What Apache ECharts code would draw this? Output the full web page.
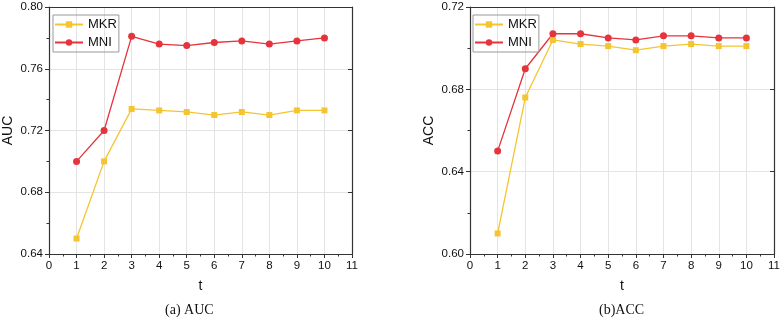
<!DOCTYPE html>
<html><head><meta charset="utf-8">
<script src="https://cdn.jsdelivr.net/npm/echarts@6/dist/echarts.min.js"></script>
<style>html,body{margin:0;padding:0;background:#fff}#c{width:783px;height:321px}</style>
</head><body><div id="c"></div>
<script>
var tValues = [1,2,3,4,5,6,7,8,9,10];
var aucMKR = [0.650,0.700,0.734,0.733,0.732,0.730,0.732,0.730,0.733,0.733];
var aucMNI = [0.700,0.720,0.781,0.776,0.775,0.777,0.778,0.776,0.778,0.780];
var accMKR = [0.610,0.676,0.704,0.702,0.701,0.699,0.701,0.702,0.701,0.701];
var accMNI = [0.650,0.690,0.707,0.707,0.705,0.704,0.706,0.706,0.705,0.705];
var seriesNames = ['MKR','MNI'];
var captions = ['(a) AUC','(b)ACC'];
var yNames = ['AUC','ACC'];

var YEL = '#F5C431', RED = '#E5343C';
var FONT = 'Liberation Sans, Arial, sans-serif';
function pairs(v){ return tValues.map(function(t,i){return [t,v[i]];}); }

function xAxes(gi){
  return [{
    gridIndex: gi, type:'value', min:0, max:11, interval:1,
    name:'t', nameLocation:'middle', nameGap:25,
    nameTextStyle:{fontSize:14, color:'#111', fontFamily:FONT},
    axisLine:{show:true, lineStyle:{color:'#333', width:1.2}},
    axisTick:{show:true, inside:false, length:4, lineStyle:{color:'#333'}},
    minorTick:{show:true, splitNumber:2, length:2.5, lineStyle:{color:'#333'}},
    axisLabel:{fontSize:11.5, color:'#111', fontFamily:FONT, margin:6},
    splitLine:{show:true, lineStyle:{color:'#e4e4e4', width:1}}
  },{
    gridIndex: gi, type:'value', min:0, max:11, interval:1, position:'top',
    axisLine:{show:true, onZero:false, lineStyle:{color:'#333', width:1.2}},
    axisTick:{show:false}, axisLabel:{show:false}, splitLine:{show:false}
  }];
}
function yAxes(gi, mn, mx){
  return [{
    gridIndex: gi, type:'value', min:mn, max:mx, interval:0.04,
    name: yNames[gi], nameLocation:'middle', nameGap:34,
    nameTextStyle:{fontSize:14, color:'#111', fontFamily:FONT},
    axisLine:{show:true, lineStyle:{color:'#333', width:1.2}},
    axisTick:{show:true, inside:false, length:4, lineStyle:{color:'#333'}},
    minorTick:{show:true, splitNumber:2, length:2.5, lineStyle:{color:'#333'}},
    axisLabel:{fontSize:11.5, color:'#111', fontFamily:FONT, margin:6,
      formatter:function(v){return v.toFixed(2);}},
    splitLine:{show:true, lineStyle:{color:'#e4e4e4', width:1}}
  },{
    gridIndex: gi, type:'value', min:mn, max:mx, interval:0.04, position:'right',
    axisLine:{show:true, onZero:false, lineStyle:{color:'#333', width:1.2}},
    axisTick:{show:true, inside:true, length:4, lineStyle:{color:'#333'}},
    axisLabel:{show:false}, splitLine:{show:false}
  }];
}
function mk(name, gi, data, color, sym, size){
  return {name:name, type:'line', xAxisIndex:gi*2, yAxisIndex:gi*2,
    data:pairs(data), symbol:sym, symbolSize:size, showSymbol:true,
    lineStyle:{color:color, width:1.3}, itemStyle:{color:color}, z:3};
}
function legend(left){
  return {data:seriesNames, orient:'vertical', left:left, top:15,
    itemWidth:28, itemHeight:8, itemGap:5, padding:[3,2,3,1],
    borderColor:'#999', borderWidth:1, borderRadius:0,
    textStyle:{fontSize:13, color:'#111', fontFamily:FONT}};
}
var chart = echarts.init(document.getElementById('c'));
chart.setOption({
  animation:false,
  backgroundColor:'#fff',
  grid:[{left:46, right:431, top:7, bottom:67},{left:470, right:7, top:7, bottom:67}],
  xAxis: xAxes(0).concat(xAxes(1)),
  yAxis: yAxes(0,0.64,0.80).concat(yAxes(1,0.60,0.72)),
  legend:[legend(53), legend(473)],
  series:[
    mk(seriesNames[0],0,aucMKR,YEL,'rect',6),
    mk(seriesNames[1],0,aucMNI,RED,'circle',7),
    mk(seriesNames[0],1,accMKR,YEL,'rect',6),
    mk(seriesNames[1],1,accMNI,RED,'circle',7)
  ],
  graphic:[
    {type:'text', left:165, top:303, style:{text:captions[0], fontSize:14, fill:'#111', fontFamily:'Liberation Serif, Times New Roman, serif'}},
    {type:'text', left:599, top:303, style:{text:captions[1], fontSize:14, fill:'#111', fontFamily:'Liberation Serif, Times New Roman, serif'}}
  ]
});
</script></body></html>
